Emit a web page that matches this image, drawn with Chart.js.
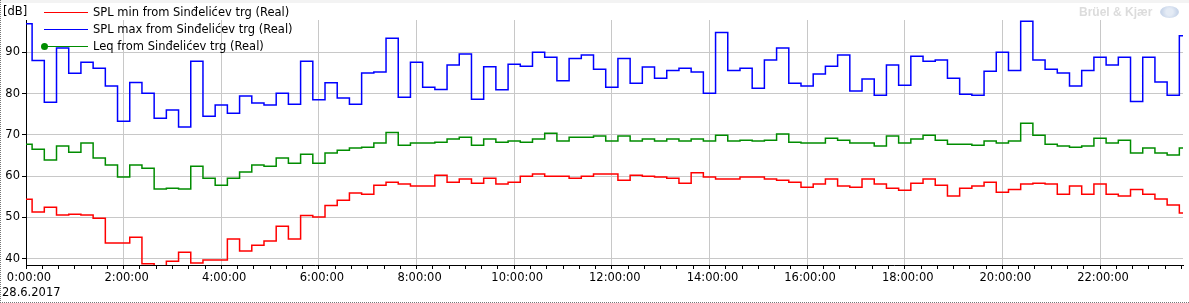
<!DOCTYPE html>
<html>
<head>
<meta charset="utf-8">
<script src="https://cdn.jsdelivr.net/npm/chart.js@4.4.1/dist/chart.umd.min.js"></script>
<style>
    html, body { margin: 0; padding: 0; background: #fff; }
    .wrap {
        position: relative;
        width: 1189px;
        height: 303px;
        font-family: 'DejaVu Sans', sans-serif;
        font-size: 11.5px;
        color: #000;
    }
    .wrap canvas { position: absolute; left: 0; top: 0; }
    .frame {
        position: absolute; left: 0; top: 0; width: 1188px; height: 302px;
        border-left: 1px dotted #777; border-bottom: 1px dotted #777;
        pointer-events: none;
    }
    .topband { position: absolute; left: 0; top: 0; width: 1189px; height: 3px; background: #f3f3f3; }
    .unit { position: absolute; left: 3px; top: 4px; }
    .date { position: absolute; left: 2px; top: 285px; }
    .legend { position: absolute; left: 44px; top: 4px; }
    .legend .row { position: relative; height: 17px; line-height: 17px; }
    .legend .line { position: absolute; left: 0; top: 8px; width: 44px; height: 0; border-top: 1px solid; }
    .legend .dot { position: absolute; left: -3px; top: 5px; width: 7px; height: 7px; border-radius: 50%; }
    .legend .txt { position: absolute; left: 49px; top: 0; white-space: nowrap; }
    .brand {
        position: absolute; left: 1079px; top: 5px; color: #dcdcdc;
        font-family: 'Liberation Sans', sans-serif; font-weight: bold; font-size: 12px;
    }
    .logo {
        position: absolute; left: 1160px; top: 6px; width: 19px; height: 12px; border-radius: 50%;
        background: radial-gradient(circle, #e4ebf5 30%, #c9d6ea 70%);
    }
</style>
</head>
<body>
<div class="wrap">
    <canvas id="levelChart" width="1189" height="303"></canvas>
    <div class="topband"></div>
    <div class="frame"></div>
    <div class="unit">[dB]</div>
    <div class="date">28.6.2017</div>
    <div class="brand">Brüel &amp; Kjær</div>
    <div class="logo"></div>
    <div class="legend">
        <div class="row"><div class="line" style="border-color:#ff0000"></div><div class="txt">SPL min from Sinđelićev trg (Real)</div></div>
        <div class="row"><div class="line" style="border-color:#0000ff"></div><div class="txt">SPL max from Sinđelićev trg (Real)</div></div>
        <div class="row"><div class="line" style="border-color:#008c00"></div><div class="dot" style="background:#008c00"></div><div class="txt">Leq from Sinđelićev trg (Real)</div></div>
    </div>
</div>
<script>
        // 15 minute values, 0:00 .. 23:45
        const splMax = [
            96.9, 88.0, 77.9, 91.0, 84.9, 87.6, 86.1, 81.8, 73.3, 82.7, 80.1, 74.0,
            76.0, 71.9, 87.8, 74.5, 77.2, 75.2, 79.4, 77.7, 77.2, 80.1, 77.4, 87.8,
            78.5, 82.6, 78.9, 77.4, 85.0, 85.2, 93.4, 79.1, 87.6, 81.5, 81.0, 86.9,
            89.6, 78.6, 86.5, 80.9, 87.1, 86.6, 90.0, 88.8, 83.1, 88.5, 89.3, 85.9,
            81.5, 88.5, 82.5, 86.4, 83.7, 85.6, 86.1, 85.2, 80.1, 94.8, 85.6, 86.1,
            81.3, 88.1, 91.0, 82.5, 81.8, 84.7, 86.6, 89.3, 80.6, 83.5, 79.6, 86.9,
            82.0, 89.0, 87.8, 88.1, 83.7, 79.8, 79.6, 85.4, 90.0, 85.6, 97.5, 88.1,
            85.9, 85.0, 81.8, 85.6, 88.8, 86.9, 88.8, 78.1, 88.8, 82.8, 79.6, 94.0
        ];
        const leq = [
            67.7, 66.5, 63.9, 67.3, 65.8, 68.0, 64.4, 62.7, 59.8, 62.7, 61.9, 56.9,
            57.1, 56.9, 62.4, 59.5, 57.8, 59.5, 61.0, 62.7, 62.4, 64.4, 63.1, 65.3,
            63.1, 65.6, 66.3, 66.8, 67.0, 68.0, 70.6, 67.5, 68.0, 68.0, 68.2, 69.0,
            69.4, 67.5, 69.0, 68.2, 68.5, 68.2, 69.0, 70.4, 68.5, 69.4, 69.4, 69.7,
            68.5, 69.7, 68.5, 69.0, 68.5, 69.0, 68.5, 69.0, 68.5, 69.9, 68.5, 68.7,
            68.5, 68.7, 70.2, 68.2, 68.0, 68.0, 69.2, 68.7, 68.0, 68.0, 67.3, 69.7,
            68.0, 69.0, 69.9, 68.7, 67.7, 67.7, 67.5, 68.5, 68.0, 68.5, 72.8, 69.9,
            67.7, 67.3, 67.0, 67.3, 69.2, 68.0, 68.7, 65.6, 66.8, 65.6, 65.1, 66.8
        ];
        const splMin = [
            54.4, 51.3, 52.5, 50.6, 50.8, 50.6, 49.8, 43.8, 43.8, 45.2, 38.8, 37.5,
            39.4, 41.6, 39.0, 39.7, 39.7, 44.8, 41.9, 43.3, 44.3, 47.9, 44.8, 50.5,
            50.1, 52.9, 54.2, 55.9, 55.6, 57.8, 58.5, 58.1, 57.6, 57.6, 60.2, 58.5,
            59.3, 58.3, 59.5, 58.1, 58.5, 60.0, 60.5, 60.0, 60.0, 59.5, 60.0, 60.5,
            60.5, 59.0, 60.2, 60.0, 59.8, 59.5, 58.3, 60.8, 59.8, 59.3, 59.3, 59.8,
            59.8, 59.3, 59.0, 58.5, 57.3, 58.1, 59.3, 57.6, 57.3, 59.3, 58.1, 57.1,
            56.6, 58.3, 59.3, 57.8, 55.2, 57.1, 57.6, 58.5, 56.1, 56.8, 58.1, 58.3,
            58.1, 55.6, 57.6, 55.6, 58.1, 55.6, 55.2, 56.8, 55.6, 54.5, 53.0, 51.1
        ];
        const yTicks = [40, 50, 60, 70, 80, 90];
        const stepMinutes = 15;

        const minutes = splMax.map((_, i) => i * stepMinutes);
        const toPoints = arr => arr.map((v, i) => ({ x: minutes[i], y: v }));

        const tickFont = { family: 'DejaVu Sans', size: 11.5 };

        function series(label, data, color) {
            return {
                label: label,
                data: toPoints(data),
                borderColor: color,
                backgroundColor: color,
                borderWidth: 1.5,
                stepped: 'middle',
                pointRadius: 0,
                fill: false
            };
        }

        const levelCtx = document.getElementById('levelChart').getContext('2d');
        new Chart(levelCtx, {
            type: 'line',
            data: {
                datasets: [
                    series('SPL min from Sinđelićev trg (Real)', splMin, '#ff0000'),
                    series('SPL max from Sinđelićev trg (Real)', splMax, '#0000ff'),
                    series('Leq from Sinđelićev trg (Real)', leq, '#008c00')
                ]
            },
            options: {
                responsive: false,
                animation: false,
                layout: { padding: { top: 20, right: 6, left: 0, bottom: 0 } },
                plugins: {
                    legend: { display: false },
                    tooltip: { enabled: false }
                },
                scales: {
                    x: {
                        type: 'linear',
                        min: 0,
                        max: 1422,
                        afterBuildTicks: function(scale) {
                            const t = [];
                            for (let m = 0; m <= 1420; m += 20) t.push({ value: m });
                            scale.ticks = t;
                        },
                        afterFit: function(scale) { scale.height = 38; },
                        ticks: {
                            autoSkip: false,
                            maxRotation: 0,
                            minRotation: 0,
                            color: '#000',
                            font: tickFont,
                            labelOffset: 3,
                            padding: 2,
                            callback: function(value) {
                                if (value % 120 !== 0) return '';
                                return (value / 60) + ':00:00';
                            }
                        },
                        grid: {
                            color: function(ctx) {
                                return ctx.tick && ctx.tick.value % 120 === 0 ? '#c8c8c8' : 'rgba(0,0,0,0)';
                            },
                            tickColor: '#000',
                            tickLength: 4
                        },
                        border: { color: '#000' }
                    },
                    y: {
                        min: 38.5,
                        max: 97.8,
                        afterBuildTicks: function(scale) {
                            scale.ticks = yTicks.map(v => ({ value: v }));
                        },
                        afterFit: function(scale) { scale.width = 26; },
                        ticks: {
                            color: '#000',
                            font: tickFont,
                            padding: 2
                        },
                        grid: {
                            color: '#c8c8c8',
                            tickColor: '#000',
                            tickLength: 4
                        },
                        border: { color: '#000' }
                    }
                }
            }
        });
</script>
</body>
</html>
